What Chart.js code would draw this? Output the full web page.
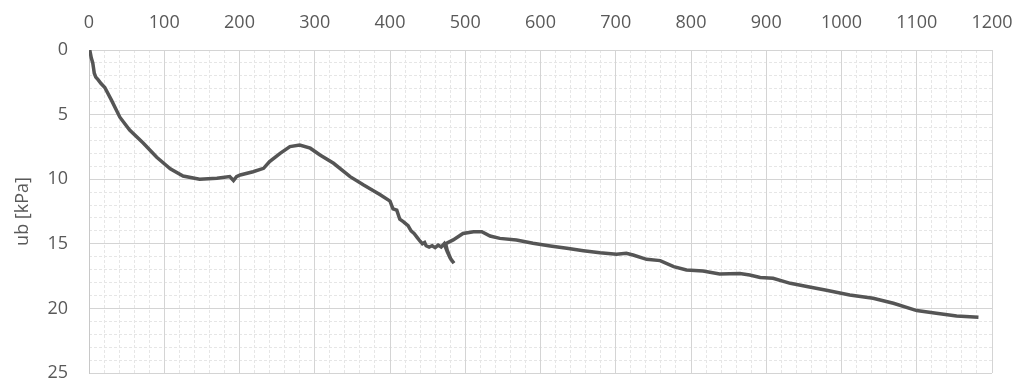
<!DOCTYPE html>
<html>
<head>
<meta charset="utf-8">
<script src="https://cdn.jsdelivr.net/npm/chart.js@4.4.1/dist/chart.umd.min.js"></script>
<style>
  html, body { margin: 0; padding: 0; background: #fff; }
  #wrap { width: 1022px; height: 387px; }
</style>
</head>
<body>
<div id="wrap"><canvas id="ubChart" width="1022" height="387"></canvas></div>
<script>
// time / displacement values (x) and measured ub [kPa] (y)
var xValues = [1, 3, 5, 6, 7, 9, 12, 16, 21, 30, 41, 54, 72, 90, 108, 125, 147, 170, 187, 192, 196, 201,
  218, 232, 240, 254, 267, 280, 294, 307, 325, 347, 365, 387, 400, 404, 409, 413, 418, 424, 428, 432, 436, 440,
  443, 446, 448, 452, 456, 460, 464, 468, 472, 476, 480, 485, 481, 476, 474, 484, 497, 511, 522, 533, 546, 568,
  590, 613, 635, 657, 679, 701, 714, 723, 741, 759, 777, 794, 816, 838, 865, 878, 892, 909, 932, 954, 980, 1011,
  1042, 1069, 1100, 1126, 1153, 1182];
var ubValues = [0, 0.6, 1.0, 1.4, 1.8, 2.1, 2.3, 2.6, 2.9, 3.9, 5.2, 6.2, 7.2, 8.3, 9.2, 9.75, 10.0, 9.93, 9.8,
  10.1, 9.8, 9.67, 9.42, 9.16, 8.64, 8.0, 7.48, 7.35, 7.6, 8.13, 8.77, 9.8, 10.45, 11.2, 11.7, 12.3, 12.4,
  13.1, 13.3, 13.6, 14.0, 14.2, 14.5, 14.8, 15.0, 14.9, 15.15, 15.25, 15.15, 15.3, 15.1, 15.25, 15.0,
  15.6, 16.1, 16.5, 16.2, 15.5, 15.0, 14.7, 14.2, 14.06, 14.06, 14.4, 14.58, 14.7, 14.96, 15.17, 15.35, 15.53,
  15.7, 15.8, 15.74, 15.87, 16.2, 16.3, 16.77, 17.03, 17.1, 17.34, 17.3, 17.41, 17.6, 17.67, 18.06, 18.3, 18.6,
  18.96, 19.22, 19.6, 20.17, 20.38, 20.59, 20.69];

var xTickStep = 100, xMinorStep = 20;
var yTickStep = 5, yMinorStep = 1;
var yTitle = "ub [kPa]";

var points = xValues.map(function(x, i) { return { x: x, y: ubValues[i] }; });

var textColor = "#595959";
var font = { family: '"Open Sans", "Liberation Sans", sans-serif', size: 18 };
var plain = function(v) { return String(v); };

new Chart(document.getElementById("ubChart").getContext("2d"), {
  type: "scatter",
  data: {
    datasets: [{
      data: points,
      showLine: true,
      borderColor: "#555555",
      borderWidth: 3.5,
      pointRadius: 0,
      tension: 0,
      xAxisID: "x",
      yAxisID: "y"
    }]
  },
  options: {
    responsive: false,
    animation: false,
    layout: { padding: { left: 8, top: 12, right: 30, bottom: 14 } },
    plugins: { legend: { display: false }, tooltip: { enabled: false } },
    scales: {
      xMinor: {
        type: "linear", position: "top", min: 0, max: 1200, z: -1,
        ticks: { display: false, stepSize: xMinorStep },
        grid: { color: "#e6e6e6", lineWidth: 1, drawTicks: false },
        border: { display: false, dash: [3, 2] },
        afterFit: function(s) { s.height = 0; s.paddingLeft = 0; s.paddingRight = 0; }
      },
      yMinor: {
        type: "linear", position: "left", min: 0, max: 25, reverse: true, z: -1,
        ticks: { display: false, stepSize: yMinorStep },
        grid: { color: "#e6e6e6", lineWidth: 1, drawTicks: false },
        border: { display: false, dash: [3, 2] },
        afterFit: function(s) { s.width = 0; s.paddingTop = 0; s.paddingBottom = 0; }
      },
      x: {
        type: "linear", position: "top", min: 0, max: 1200,
        ticks: { stepSize: xTickStep, color: textColor, font: font, padding: 16, callback: plain },
        grid: { color: "#d4d4d4", lineWidth: 1, drawTicks: false },
        border: { display: true, color: "#d4d4d4" },
        afterFit: function(s) { s.height = 38; s.paddingLeft = 0; s.paddingRight = 0; }
      },
      y: {
        type: "linear", position: "left", min: 0, max: 25, reverse: true,
        ticks: { stepSize: yTickStep, color: textColor, font: font, padding: 21, callback: plain },
        grid: { color: "#d4d4d4", lineWidth: 1, drawTicks: false },
        border: { display: true, color: "#c8c8c8" },
        title: { display: true, text: yTitle, color: textColor, font: font, padding: { top: 4, bottom: 14 } },
        afterFit: function(s) { s.width = 81; s.paddingTop = 0; s.paddingBottom = 0; }
      }
    }
  }
});
</script>
</body>
</html>
